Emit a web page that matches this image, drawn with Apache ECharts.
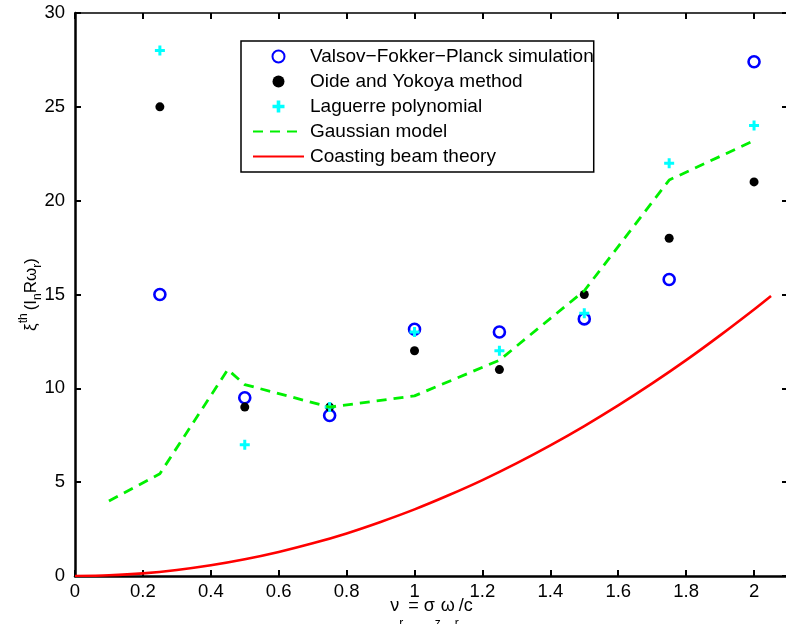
<!DOCTYPE html>
<html>
<head>
<meta charset="utf-8">
<title>Instability threshold vs. resonator frequency</title>
<script src="https://cdn.jsdelivr.net/npm/echarts@6/dist/echarts.min.js"></script>
<style>
  html, body { margin: 0; padding: 0; background: #fff; }
  #chart { width: 786px; height: 624px; }
</style>
</head>
<body>
<div id="chart"></div>
<script>
// Threshold values at the sampled resonator frequencies
const xMarks     = [0.25, 0.5, 0.75, 1.0, 1.25, 1.5, 1.75, 2.0];
const vfpSim     = [15.0, 9.5, 8.55, 13.15, 13.0, 13.7, 15.8, 27.4];
const oideYokoya = [25.0, 9.0, 9.0, 12.0, 11.0, 15.0, 18.0, 21.0];
const laguerre   = [28.0, 7.0, 9.0, 13.0, 12.0, 14.0, 22.0, 24.0];

// Gaussian model (dashed polyline)
const gaussX = [0.1, 0.25, 0.45, 0.5, 0.75, 1.0, 1.25, 1.5, 1.75, 2.0];
const gaussY = [4.0, 5.45, 11.0, 10.2, 9.0, 9.6, 11.5, 15.2, 21.1, 23.2];

// Coasting beam theory (smooth curve)
const coastX = [0, 0.1, 0.2, 0.3, 0.4, 0.5, 0.6, 0.7, 0.8, 0.9, 1.0,
                1.1, 1.2, 1.3, 1.4, 1.5, 1.6, 1.7, 1.8, 1.9, 2.0, 2.05];
const coastY = [0, 0.04, 0.14, 0.32, 0.57, 0.89, 1.28, 1.74, 2.27, 2.88, 3.55,
                4.30, 5.11, 6.00, 6.96, 7.99, 9.09, 10.26, 11.50, 12.82, 14.20, 14.92];

// Axis ranges and tick steps
const xRange = [0, 2.1], xStep = 0.2;
const yRange = [0, 30],  yStep = 5;

const seriesNames = [
  'Valsov\u2212Fokker\u2212Planck simulation',
  'Oide and Yokoya method',
  'Laguerre polynomial',
  'Gaussian model',
  'Coasting beam theory'
];

const FONT = '"Liberation Sans", Arial, Helvetica, sans-serif';
const pairs = (xs, ys) => xs.map((x, i) => [x, ys[i]]);
const plusPath = 'path://M3.5,0H6.5V3.5H10V6.5H6.5V10H3.5V6.5H0V3.5H3.5Z';

const chart = echarts.init(document.getElementById('chart'), null, { renderer: 'canvas' });

const tickFmt = v => {
  const k = Math.round(v / xStep);
  return Math.abs(k * xStep - v) < 1e-6 ? String(+v.toFixed(1)) : '';
};

// Line entries in the legend show only their stroke
const legendData = seriesNames.map((name, i) =>
  i >= 3 ? { name, itemStyle: { opacity: 0 } } : { name }
);

chart.setOption({
  animation: false,
  backgroundColor: '#ffffff',
  textStyle: { fontFamily: FONT, color: '#000' },
  grid: { left: 75, top: 13, width: 713, height: 563, containLabel: false, outerBoundsMode: 'none' },
  legend: {
    orient: 'vertical',
    left: 241,
    top: 41,
    padding: [6, 0, 6, 11],
    itemWidth: 51,
    itemHeight: 12,
    itemGap: 6,
    borderColor: '#000',
    borderWidth: 1.5,
    backgroundColor: '#fff',
    textStyle: { fontFamily: FONT, fontSize: 19, color: '#000', padding: [0, 0, 0, 1] },
    data: legendData
  },
  xAxis: [
    {
      type: 'value', min: xRange[0], max: xRange[1], interval: xStep,
      position: 'bottom',
      name: '{g| }{t|\u03bd}{s|r}{t| = \u03c3}{s|z}{t|\u03c9}{s|r}{t|/c}',
      nameLocation: 'middle', nameGap: 21, nameMoveOverlap: false,
      nameTextStyle: {
        rich: {
          g: { fontSize: 1, lineHeight: 33, width: 0 },
          t: { fontFamily: FONT, fontSize: 18, color: '#000', lineHeight: 20, verticalAlign: 'top' },
          s: { fontFamily: FONT, fontSize: 12, color: '#000', lineHeight: 12, verticalAlign: 'bottom' }
        }
      },
      splitLine: { show: false },
      axisLine: { onZero: false, lineStyle: { color: '#000', width: 2.5 } },
      axisTick: { inside: true, length: 6, lineStyle: { color: '#000', width: 2 } },
      axisLabel: { fontFamily: FONT, fontSize: 18.5, color: '#000', margin: 6, formatter: tickFmt, showMaxLabel: false }
    },
    {
      type: 'value', min: xRange[0], max: xRange[1], interval: xStep,
      position: 'top',
      splitLine: { show: false },
      axisLine: { onZero: false, lineStyle: { color: '#000', width: 1.5 } },
      axisTick: { inside: true, length: 6, lineStyle: { color: '#000', width: 2 } },
      axisLabel: { show: false }
    }
  ],
  yAxis: [
    {
      type: 'value', min: yRange[0], max: yRange[1], interval: yStep,
      position: 'left',
      name: '{t|\u03be}{p|th}{t|(I}{s|n}{t|R\u03c9}{s|r}{t|)}',
      nameLocation: 'middle', nameGap: 31, nameRotate: 90, nameMoveOverlap: false,
      nameTextStyle: {
        rich: {
          t: { fontFamily: FONT, fontSize: 17, color: '#000', lineHeight: 26 },
          s: { fontFamily: FONT, fontSize: 12, color: '#000', lineHeight: 13, verticalAlign: 'bottom' },
          p: { fontFamily: FONT, fontSize: 12, color: '#000', lineHeight: 13, verticalAlign: 'top', padding: [0, 3, 0, 0] }
        }
      },
      splitLine: { show: false },
      axisLine: { onZero: false, lineStyle: { color: '#000', width: 2.5 } },
      axisTick: { inside: true, length: 6, lineStyle: { color: '#000', width: 2 } },
      axisLabel: { fontFamily: FONT, fontSize: 18.5, color: '#000', margin: 10 }
    },
    {
      type: 'value', min: yRange[0], max: yRange[1], interval: yStep,
      position: 'right',
      splitLine: { show: false },
      axisLine: { onZero: false, lineStyle: { color: '#000', width: 1.5 } },
      axisTick: { inside: true, length: 6, lineStyle: { color: '#000', width: 2 } },
      axisLabel: { show: false }
    }
  ],
  series: [
    {
      name: seriesNames[0], type: 'scatter',
      symbol: 'circle', symbolSize: 11,
      itemStyle: { color: 'rgba(255,255,255,0)', borderColor: '#0000ff', borderWidth: 2.6, opacity: 1 },
      data: pairs(xMarks, vfpSim)
    },
    {
      name: seriesNames[1], type: 'scatter',
      symbol: 'circle', symbolSize: 9,
      itemStyle: { color: '#000000', opacity: 1 },
      data: pairs(xMarks, oideYokoya)
    },
    {
      name: seriesNames[2], type: 'scatter',
      symbol: plusPath, symbolSize: 10,
      itemStyle: { color: '#00ffff', opacity: 1 },
      data: pairs(xMarks, laguerre)
    },
    {
      name: seriesNames[3], type: 'line',
      symbol: 'none', showSymbol: false, color: '#00f000',
      lineStyle: { color: '#00f000', width: 2.8, type: [10, 7] },
      data: pairs(gaussX, gaussY)
    },
    {
      name: seriesNames[4], type: 'line',
      symbol: 'none', showSymbol: false, smooth: 0.3, color: '#ff0000',
      lineStyle: { color: '#ff0000', width: 2.6 },
      data: pairs(coastX, coastY)
    }
  ]
});
</script>
</body>
</html>
